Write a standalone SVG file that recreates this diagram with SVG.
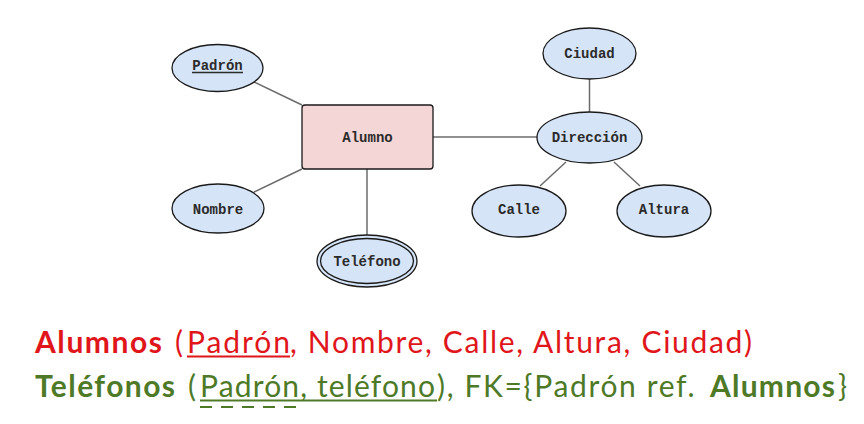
<svg xmlns="http://www.w3.org/2000/svg" width="864" height="424" viewBox="0 0 864 424">
<style>
.attr{fill:#d6e4f8;stroke:#1a1a1a;stroke-width:1.3}
.lbl{font-family:"Liberation Mono","DejaVu Sans Mono",monospace;font-weight:bold;font-size:14px;fill:#2b2b2b;text-anchor:middle}
.conn line{stroke:#6b6b6b;stroke-width:1.5}
.rel{font-family:Lato,"Noto Sans",sans-serif;font-size:30px}
.red{fill:#e0161b}
.grn{fill:#4e7a27}
</style>
<rect width="864" height="424" fill="#fff"/>
<g id="connectors" class="conn">
<line x1="254" y1="82" x2="302" y2="105"/>
<line x1="254" y1="192" x2="302" y2="169"/>
<line x1="367" y1="169" x2="367" y2="235"/>
<line x1="433" y1="137" x2="537" y2="137"/>
<line x1="589.5" y1="79" x2="589.5" y2="112"/>
<line x1="566" y1="162" x2="540" y2="186"/>
<line x1="614" y1="162" x2="640" y2="186"/>
</g>
<g id="alumno">
<rect x="302" y="105" width="131" height="64" rx="3" fill="#f5d6d6" stroke="#1a1a1a" stroke-width="1.3"/>
<text class="lbl" x="367.5" y="142">Alumno</text>
</g>
<g id="padron">
<ellipse class="attr" cx="217.5" cy="68" rx="45.5" ry="23.5"/>
<text class="lbl" x="217.5" y="70">Padrón</text>
<line x1="192" y1="72.5" x2="243" y2="72.5" stroke="#2b2b2b" stroke-width="1.3"/>
</g>
<g id="nombre">
<ellipse class="attr" cx="218" cy="208.5" rx="46" ry="24.5"/>
<text class="lbl" x="218" y="214">Nombre</text>
</g>
<g id="telefono">
<ellipse class="attr" cx="367" cy="261" rx="50" ry="26"/>
<ellipse cx="367" cy="261" rx="46.5" ry="22.5" fill="none" stroke="#1a1a1a" stroke-width="1.3"/>
<text class="lbl" x="367" y="265.5">Teléfono</text>
</g>
<g id="ciudad">
<ellipse class="attr" cx="589.5" cy="53.5" rx="46.5" ry="25.5"/>
<text class="lbl" x="589.5" y="57.5">Ciudad</text>
</g>
<g id="direccion">
<ellipse class="attr" cx="589.5" cy="137.5" rx="52.5" ry="25.5"/>
<text class="lbl" x="589.5" y="142">Dirección</text>
</g>
<g id="calle">
<ellipse class="attr" cx="519" cy="211" rx="47" ry="26"/>
<text class="lbl" x="519" y="214">Calle</text>
</g>
<g id="altura">
<ellipse class="attr" cx="664" cy="211" rx="47" ry="26"/>
<text class="lbl" x="664" y="214">Altura</text>
</g>
<g id="relations">
<text class="rel red" y="353"><tspan x="35" font-weight="bold" textLength="127">Alumnos</tspan><tspan x="175">(</tspan><tspan x="187" textLength="103">Padrón</tspan><tspan x="290" textLength="462">, Nombre, Calle, Altura, Ciudad)</tspan></text>
<line x1="187" y1="356.5" x2="290" y2="356.5" stroke="#e0161b" stroke-width="2"/>
<text class="rel grn" y="397"><tspan x="35" font-weight="bold" textLength="140">Teléfonos</tspan><tspan x="188">(</tspan><tspan x="200" textLength="235">Padrón, teléfono</tspan><tspan x="437" textLength="267">), FK={Padrón ref. </tspan><tspan x="710" font-weight="bold" textLength="125">Alumnos</tspan><tspan x="838">}</tspan></text>
<line x1="200" y1="400.5" x2="437" y2="400.5" stroke="#4e7a27" stroke-width="2"/>
<line x1="200" y1="407" x2="305" y2="407" stroke="#4e7a27" stroke-width="2" stroke-dasharray="12,9"/>
</g>
</svg>
